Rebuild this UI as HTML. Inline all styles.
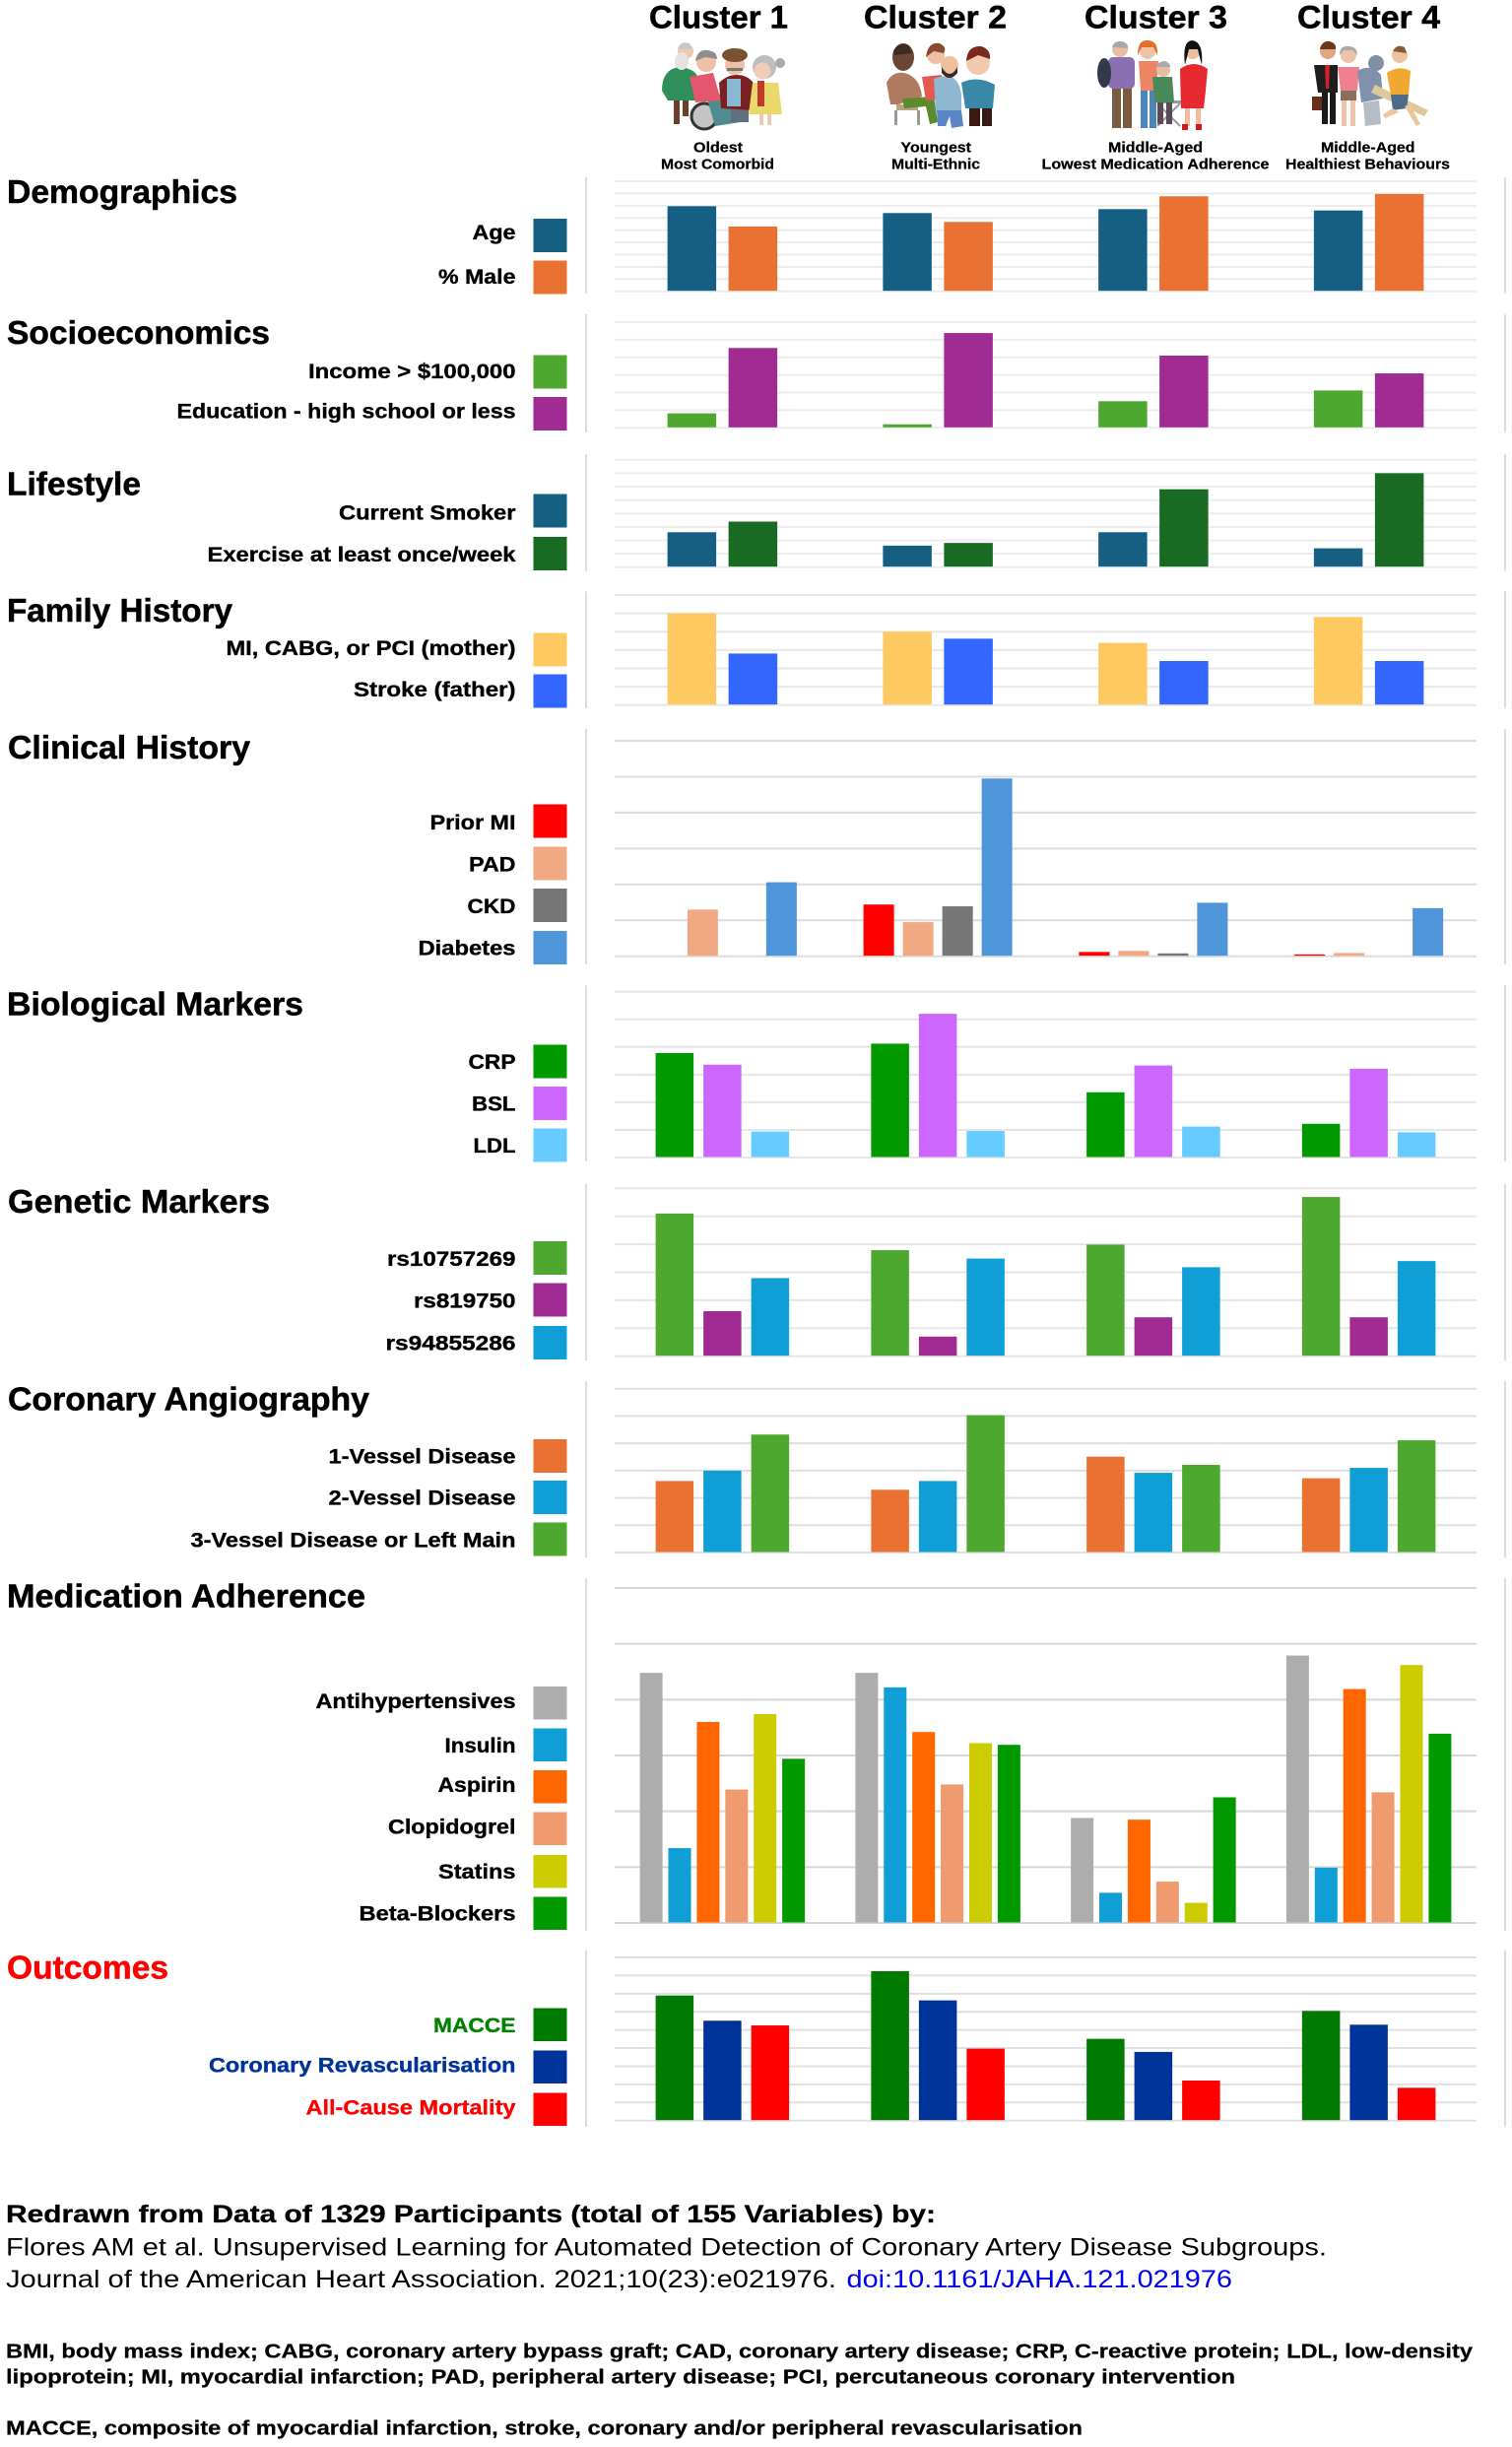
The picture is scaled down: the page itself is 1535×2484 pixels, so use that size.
<!DOCTYPE html>
<html lang="en">
<head>
<meta charset="utf-8">
<title>Coronary Artery Disease Clusters</title>
<style>
html,body{margin:0;padding:0;background:#fff}
svg{display:block}
text{font-family:"Liberation Sans",Arial,sans-serif}
.h{font-weight:700;font-size:33px;fill:#000;stroke:#000;stroke-width:.5}
.c{font-weight:700;font-size:32px;fill:#000;stroke:#000;stroke-width:.5}
.s{font-weight:700;font-size:14.5px;fill:#000;stroke:#000;stroke-width:.25}
.l{font-weight:700;font-size:21px;fill:#000;stroke:#000;stroke-width:.35}
.f{font-size:25px;fill:#000}
.fb{font-weight:700;font-size:25px;fill:#000;stroke:#000;stroke-width:.3}
.a{font-weight:700;font-size:20.5px;fill:#000;stroke:#000;stroke-width:.25}
</style>
</head>
<body>
<svg id="chart" xmlns="http://www.w3.org/2000/svg" width="1535" height="2484" viewBox="0 0 1535 2484">
<rect width="1535" height="2484" fill="#fff"/>

<!-- cluster headers -->
<text class="c" x="659" y="28.5" textLength="141" lengthAdjust="spacingAndGlyphs">Cluster 1</text>
<text class="c" x="877" y="28.5" textLength="145" lengthAdjust="spacingAndGlyphs">Cluster 2</text>
<text class="c" x="1101" y="28.5" textLength="145" lengthAdjust="spacingAndGlyphs">Cluster 3</text>
<text class="c" x="1317" y="28.5" textLength="145" lengthAdjust="spacingAndGlyphs">Cluster 4</text>

<text class="s" x="704" y="154.5" textLength="50" lengthAdjust="spacingAndGlyphs">Oldest</text>
<text class="s" x="671" y="171.5" textLength="115" lengthAdjust="spacingAndGlyphs">Most Comorbid</text>
<text class="s" x="914.5" y="154.5" textLength="71.5" lengthAdjust="spacingAndGlyphs">Youngest</text>
<text class="s" x="905" y="171.5" textLength="90" lengthAdjust="spacingAndGlyphs">Multi-Ethnic</text>
<text class="s" x="1125" y="154.5" textLength="96" lengthAdjust="spacingAndGlyphs">Middle-Aged</text>
<text class="s" x="1057.5" y="171.5" textLength="231" lengthAdjust="spacingAndGlyphs">Lowest Medication Adherence</text>
<text class="s" x="1341" y="154.5" textLength="95.5" lengthAdjust="spacingAndGlyphs">Middle-Aged</text>
<text class="s" x="1305" y="171.5" textLength="167" lengthAdjust="spacingAndGlyphs">Healthiest Behaviours</text>

<!-- illustration: cluster 1 -->
<g>
<rect x="684" y="96" width="6" height="30" fill="#6b3f2a"/><rect x="693" y="96" width="6" height="22" fill="#6b3f2a"/>
<path d="M672 92 Q672 70 690 68 Q706 70 708 78 L708 102 L678 102 Z" fill="#2f8f5b"/>
<circle cx="696" cy="52" r="8" fill="#eec9b4"/><path d="M688 50 Q690 41 700 44 L703 50 Z" fill="#c9c9c4"/>
<ellipse cx="692" cy="62" rx="7" ry="9" fill="#e4e4de"/>
<circle cx="715" cy="118" r="13" fill="#c4c4c4" stroke="#333" stroke-width="3"/>
<path d="M716 94 L752 98 L752 124 L726 128 Z" fill="#4e8c90"/>
<path d="M700 78 L724 74 L732 102 L706 104 Z" fill="#e4566e"/>
<circle cx="717" cy="63" r="10" fill="#eec0a8"/><path d="M706 62 Q708 50 718 51 Q728 52 728 60 L716 58 Z" fill="#8f8f8f"/>
<rect x="742" y="104" width="18" height="20" fill="#5f6f80"/>
<path d="M730 84 Q738 76 748 76 Q760 76 766 86 L766 112 L732 110 Z" fill="#7a2020"/>
<path d="M738 80 L752 80 L752 108 L738 108 Z" fill="#8ab8d4"/>
<circle cx="746" cy="66" r="10" fill="#eec0a8"/><ellipse cx="746" cy="56" rx="13" ry="7" fill="#7a5230"/>
<rect x="738" y="69" width="16" height="3" fill="#777"/>
<rect x="771" y="115" width="4" height="12" fill="#eec9b4"/><rect x="779" y="115" width="4" height="12" fill="#eec9b4"/>
<path d="M764 84 L790 84 L794 116 L760 116 Z" fill="#e9d96a"/>
<rect x="769" y="82" width="7" height="26" fill="#c0392b"/>
<circle cx="792" cy="64" r="5" fill="#aaa"/><circle cx="776" cy="68" r="12" fill="#bdbdbd"/><circle cx="774" cy="72" r="8.5" fill="#f0cdb8"/>
</g>
<!-- illustration: cluster 2 -->
<g>
<rect x="910" y="106" width="22" height="6" fill="#b9a383"/><rect x="908" y="112" width="3" height="15" fill="#999"/><rect x="931" y="112" width="3" height="15" fill="#999"/>
<path d="M900 84 Q906 72 918 74 Q934 78 936 98 L912 106 L904 106 Z" fill="#b07a60"/>
<path d="M916 100 L948 98 L952 124 L944 126 L940 108 L918 110 Z" fill="#5e8a2e"/>
<ellipse cx="917" cy="58" rx="11" ry="14" fill="#6b4536"/><path d="M907 52 Q912 42 922 46 L926 54 L908 56 Z" fill="#3d2a22"/>
<path d="M936 78 L956 76 L960 100 L940 102 Z" fill="#e45a50"/>
<circle cx="950" cy="56" r="9" fill="#eebfa6"/><path d="M940 58 Q942 42 954 44 Q962 48 958 54 L948 52 Z" fill="#8a4a30"/>
<path d="M948 80 Q958 76 966 78 Q974 82 976 96 L976 114 L950 114 Z" fill="#8fb7cf"/>
<path d="M951 112 L976 112 L978 128 L966 130 L964 118 L960 128 L952 128 Z" fill="#5a86c6"/>
<circle cx="964" cy="66" r="9" fill="#eec0a0"/><path d="M956 68 Q964 82 972 68 L972 74 Q964 84 956 74 Z" fill="#3a2a20"/>
<rect x="984" y="106" width="11" height="22" fill="#3a1a12"/><rect x="997" y="106" width="10" height="22" fill="#3a1a12"/>
<path d="M976 84 Q992 76 1010 86 L1008 110 L980 110 Z" fill="#3a88a8"/>
<circle cx="993" cy="64" r="12" fill="#f2c8ae"/><path d="M981 62 Q982 46 996 47 Q1006 50 1005 60 L993 56 Z" fill="#7a2a1c"/>
</g>
<!-- illustration: cluster 3 -->
<g>
<rect x="1129" y="86" width="9" height="44" fill="#7a5a40"/><rect x="1140" y="86" width="9" height="44" fill="#7a5a40"/>
<rect x="1125" y="58" width="27" height="32" rx="5" fill="#8a70b0"/>
<ellipse cx="1121" cy="74" rx="7" ry="15" fill="#33394a"/>
<circle cx="1137" cy="50" r="8" fill="#e8bda4"/><path d="M1129 48 Q1131 41 1139 42 Q1146 44 1145 49 Z" fill="#a8a8a8"/>
<rect x="1158" y="88" width="7" height="42" fill="#4a86ba"/><rect x="1167" y="88" width="7" height="42" fill="#4a86ba"/>
<path d="M1156 62 L1176 62 L1174 92 L1158 92 Z" fill="#ef8464"/>
<circle cx="1165" cy="52" r="8" fill="#f0c3a6"/><path d="M1155 56 Q1155 40 1165 41 Q1176 41 1175 56 L1171 48 L1159 48 Z" fill="#e56d2a"/>
<rect x="1175" y="102" width="24" height="3" fill="#999"/><path d="M1175 105 L1198 128 M1198 105 L1175 128" stroke="#999" stroke-width="2"/>
<path d="M1170 78 L1190 78 L1192 104 L1172 104 Z" fill="#4a8a5a"/>
<rect x="1175" y="104" width="6" height="22" fill="#5b4a55"/><rect x="1184" y="104" width="6" height="22" fill="#5b4a55"/>
<circle cx="1181" cy="71" r="7" fill="#e8bda4"/><path d="M1174 68 Q1176 62 1183 62 Q1188 64 1188 68 Z" fill="#aaa"/>
<rect x="1203" y="106" width="5" height="22" fill="#edbd9e"/><rect x="1214" y="106" width="5" height="22" fill="#edbd9e"/>
<path d="M1198 70 Q1212 60 1226 70 L1224 92 L1222 110 L1199 110 Z" fill="#e62a30"/>
<circle cx="1211" cy="52" r="8" fill="#edbd9e"/><path d="M1203 66 Q1200 42 1210 41 Q1222 42 1220 66 L1216 50 L1207 50 Z" fill="#111"/>
<rect x="1200" y="126" width="6" height="6" fill="#d01a20"/><rect x="1214" y="126" width="6" height="6" fill="#d01a20"/>
</g>
<!-- illustration: cluster 4 -->
<g>
<rect x="1332" y="98" width="14" height="14" fill="#6a2d1c"/>
<rect x="1342" y="90" width="6" height="36" fill="#1a1a1a"/><rect x="1350" y="90" width="6" height="36" fill="#1a1a1a"/>
<path d="M1334 66 L1358 66 L1358 94 L1338 94 Z" fill="#1e1e1e"/>
<path d="M1345 66 L1350 66 L1349 90 L1346 90 Z" fill="#d0202a"/>
<circle cx="1348" cy="52" r="8" fill="#e0a880"/><path d="M1340 50 Q1342 41 1350 42 Q1357 44 1356 50 Z" fill="#6a3a1c"/>
<rect x="1362" y="98" width="5" height="30" fill="#eec4a8"/><rect x="1371" y="98" width="5" height="30" fill="#eec4a8"/>
<rect x="1361" y="90" width="16" height="12" fill="#8a6f5c"/>
<path d="M1358 68 L1380 68 L1378 92 L1361 92 Z" fill="#f08090"/>
<circle cx="1369" cy="56" r="8" fill="#ecc3a8"/><path d="M1360 56 Q1360 46 1369 47 Q1378 47 1378 56 L1373 51 L1364 51 Z" fill="#aaa"/>
<path d="M1378 72 Q1392 64 1402 76 L1404 100 L1382 104 Z" fill="#8091ab"/>
<path d="M1384 104 L1400 102 L1402 126 L1386 128 Z" fill="#b6bcc4"/>
<circle cx="1397" cy="64" r="8" fill="#8090a0"/>
<path d="M1396 86 L1450 112 L1446 118 L1392 94 Z" fill="#e0c998"/>
<path d="M1408 74 Q1420 66 1432 72 L1430 96 L1412 96 Z" fill="#f0a830"/>
<path d="M1412 96 L1430 96 L1428 110 L1414 112 Z" fill="#4a6c86"/>
<path d="M1414 110 L1404 116 L1406 120 L1420 114 Z M1426 108 L1438 128 L1442 126 L1431 106 Z" fill="#eec4a0"/>
<circle cx="1421" cy="56" r="8" fill="#eec4a0"/><path d="M1414 52 Q1418 44 1426 48 L1428 54 Z" fill="#8a5a30"/>
</g>

<!-- section titles -->
<text class="h" x="7" y="206" textLength="234" lengthAdjust="spacingAndGlyphs">Demographics</text>
<text class="h" x="7" y="349" textLength="267" lengthAdjust="spacingAndGlyphs">Socioeconomics</text>
<text class="h" x="7" y="502.5" textLength="136" lengthAdjust="spacingAndGlyphs">Lifestyle</text>
<text class="h" x="7" y="631" textLength="229" lengthAdjust="spacingAndGlyphs">Family History</text>
<text class="h" x="8" y="770" textLength="246" lengthAdjust="spacingAndGlyphs">Clinical History</text>
<text class="h" x="7" y="1030.5" textLength="301" lengthAdjust="spacingAndGlyphs">Biological Markers</text>
<text class="h" x="8" y="1231" textLength="266" lengthAdjust="spacingAndGlyphs">Genetic Markers</text>
<text class="h" x="8" y="1431.5" textLength="367" lengthAdjust="spacingAndGlyphs">Coronary Angiography</text>
<text class="h" x="7" y="1631.5" textLength="364" lengthAdjust="spacingAndGlyphs">Medication Adherence</text>
<text class="h" x="7" y="2008.5" textLength="164" lengthAdjust="spacingAndGlyphs" style="fill:#f00;stroke:#f00">Outcomes</text>

<!-- legend labels -->
<text class="l" x="479.5" y="243" textLength="44" lengthAdjust="spacingAndGlyphs">Age</text>
<text class="l" x="445" y="288" textLength="78.5" lengthAdjust="spacingAndGlyphs">% Male</text>
<text class="l" x="313" y="384" textLength="210.5" lengthAdjust="spacingAndGlyphs">Income &gt; $100,000</text>
<text class="l" x="179.5" y="424.5" textLength="344" lengthAdjust="spacingAndGlyphs">Education - high school or less</text>
<text class="l" x="344" y="527.5" textLength="179.5" lengthAdjust="spacingAndGlyphs">Current Smoker</text>
<text class="l" x="210.5" y="570" textLength="313" lengthAdjust="spacingAndGlyphs">Exercise at least once/week</text>
<text class="l" x="229.5" y="665" textLength="294" lengthAdjust="spacingAndGlyphs">MI, CABG, or PCI (mother)</text>
<text class="l" x="359" y="707" textLength="164.5" lengthAdjust="spacingAndGlyphs">Stroke (father)</text>
<text class="l" x="436.5" y="842" textLength="87" lengthAdjust="spacingAndGlyphs">Prior MI</text>
<text class="l" x="476" y="884.5" textLength="47.5" lengthAdjust="spacingAndGlyphs">PAD</text>
<text class="l" x="474.5" y="927" textLength="49" lengthAdjust="spacingAndGlyphs">CKD</text>
<text class="l" x="424.5" y="969.5" textLength="99" lengthAdjust="spacingAndGlyphs">Diabetes</text>
<text class="l" x="475.5" y="1085" textLength="48" lengthAdjust="spacingAndGlyphs">CRP</text>
<text class="l" x="479" y="1127.5" textLength="44.5" lengthAdjust="spacingAndGlyphs">BSL</text>
<text class="l" x="480.5" y="1170" textLength="43" lengthAdjust="spacingAndGlyphs">LDL</text>
<text class="l" x="393" y="1285" textLength="130.5" lengthAdjust="spacingAndGlyphs">rs10757269</text>
<text class="l" x="420" y="1327.5" textLength="103.5" lengthAdjust="spacingAndGlyphs">rs819750</text>
<text class="l" x="391.5" y="1370.5" textLength="132" lengthAdjust="spacingAndGlyphs">rs94855286</text>
<text class="l" x="333.5" y="1485.5" textLength="190" lengthAdjust="spacingAndGlyphs">1-Vessel Disease</text>
<text class="l" x="333.5" y="1527.5" textLength="190" lengthAdjust="spacingAndGlyphs">2-Vessel Disease</text>
<text class="l" x="193.5" y="1570.5" textLength="330" lengthAdjust="spacingAndGlyphs">3-Vessel Disease or Left Main</text>
<text class="l" x="320.5" y="1734" textLength="203" lengthAdjust="spacingAndGlyphs">Antihypertensives</text>
<text class="l" x="451.5" y="1779" textLength="72" lengthAdjust="spacingAndGlyphs">Insulin</text>
<text class="l" x="444.5" y="1819" textLength="79" lengthAdjust="spacingAndGlyphs">Aspirin</text>
<text class="l" x="394" y="1861.5" textLength="129.5" lengthAdjust="spacingAndGlyphs">Clopidogrel</text>
<text class="l" x="445" y="1907" textLength="78.5" lengthAdjust="spacingAndGlyphs">Statins</text>
<text class="l" x="364.5" y="1949.5" textLength="159" lengthAdjust="spacingAndGlyphs">Beta-Blockers</text>
<text class="l" x="440" y="2063" textLength="83.5" lengthAdjust="spacingAndGlyphs" style="fill:#008000;stroke:#008000">MACCE</text>
<text class="l" x="212" y="2103.5" textLength="311.5" lengthAdjust="spacingAndGlyphs" style="fill:#003399;stroke:#003399">Coronary Revascularisation</text>
<text class="l" x="310.5" y="2146.5" textLength="213" lengthAdjust="spacingAndGlyphs" style="fill:#f00;stroke:#f00">All-Cause Mortality</text>

<!-- legend swatches -->
<rect x="541.5" y="222" width="34" height="34" fill="#156082"/>
<rect x="541.5" y="264.5" width="34" height="34" fill="#E97132"/>
<rect x="541.5" y="360.5" width="34" height="34" fill="#4EA72E"/>
<rect x="541.5" y="403" width="34" height="34" fill="#A02B93"/>
<rect x="541.5" y="501.5" width="34" height="34" fill="#156082"/>
<rect x="541.5" y="545" width="34" height="34" fill="#196B24"/>
<rect x="541.5" y="642.5" width="34" height="34" fill="#FFC961"/>
<rect x="541.5" y="684.5" width="34" height="34" fill="#3366FF"/>
<rect x="541.5" y="816.5" width="34" height="34" fill="#FF0000"/>
<rect x="541.5" y="859.5" width="34" height="34" fill="#F1A983"/>
<rect x="541.5" y="902" width="34" height="34" fill="#767676"/>
<rect x="541.5" y="945" width="34" height="34" fill="#4F95D9"/>
<rect x="541.5" y="1060.5" width="34" height="34" fill="#009900"/>
<rect x="541.5" y="1103" width="34" height="34" fill="#CC66FF"/>
<rect x="541.5" y="1145.5" width="34" height="34" fill="#66CCFF"/>
<rect x="541.5" y="1260" width="34" height="34" fill="#4EA72E"/>
<rect x="541.5" y="1302.5" width="34" height="34" fill="#A02B93"/>
<rect x="541.5" y="1346" width="34" height="34" fill="#0F9ED5"/>
<rect x="541.5" y="1461" width="34" height="34" fill="#E97132"/>
<rect x="541.5" y="1503" width="34" height="34" fill="#0F9ED5"/>
<rect x="541.5" y="1545.5" width="34" height="34" fill="#4EA72E"/>
<rect x="541.5" y="1712" width="34" height="33.5" fill="#ADADAD"/>
<rect x="541.5" y="1754.5" width="34" height="33.5" fill="#0F9ED5"/>
<rect x="541.5" y="1797" width="34" height="33.5" fill="#FF6600"/>
<rect x="541.5" y="1839.5" width="34" height="33.5" fill="#EF9B6F"/>
<rect x="541.5" y="1883" width="34" height="33.5" fill="#CCCC00"/>
<rect x="541.5" y="1925.5" width="34" height="33.5" fill="#009900"/>
<rect x="541.5" y="2038.5" width="34" height="33.5" fill="#007A00"/>
<rect x="541.5" y="2081.5" width="34" height="33.5" fill="#003399"/>
<rect x="541.5" y="2124.5" width="34" height="33.5" fill="#FF0000"/>

<g id="plots"></g>

<!-- footer -->
<text class="fb" x="6" y="2256" textLength="944" lengthAdjust="spacingAndGlyphs">Redrawn from Data of 1329 Participants (total of 155 Variables) by:</text>
<text class="f" x="6" y="2289.5" textLength="1341" lengthAdjust="spacingAndGlyphs">Flores AM et al. Unsupervised Learning for Automated Detection of Coronary Artery Disease Subgroups.</text>
<text class="f" x="6" y="2322" textLength="843" lengthAdjust="spacingAndGlyphs">Journal of the American Heart Association. 2021;10(23):e021976.</text>
<text class="f" x="859.5" y="2322" textLength="391.5" lengthAdjust="spacingAndGlyphs" style="fill:#0000ee">doi:10.1161/JAHA.121.021976</text>
<text class="a" x="6" y="2393.5" textLength="1489" lengthAdjust="spacingAndGlyphs">BMI, body mass index; CABG, coronary artery bypass graft; CAD, coronary artery disease; CRP, C-reactive protein; LDL, low-density</text>
<text class="a" x="6" y="2419.5" textLength="1248" lengthAdjust="spacingAndGlyphs">lipoprotein; MI, myocardial infarction; PAD, peripheral artery disease; PCI, percutaneous coronary intervention</text>
<text class="a" x="6" y="2471.5" textLength="1093" lengthAdjust="spacingAndGlyphs">MACCE, composite of myocardial infarction, stroke, coronary and/or peripheral revascularisation</text>
</svg>

<script>
// Values per series, one entry per cluster (1-4), in gridline units
const clusters = ['Cluster 1', 'Cluster 2', 'Cluster 3', 'Cluster 4'];

const ageValues = [6.96, 6.4, 6.72, 6.61];
const maleValues = [5.3, 5.67, 7.77, 7.96];

const incomeValues = [0.82, 0.2, 1.51, 2.12];
const educationValues = [4.53, 5.38, 4.1, 3.09];

const smokerValues = [2.6, 1.6, 2.6, 1.4];
const exerciseValues = [3.39, 1.8, 5.8, 7.0];

const motherHistoryValues = [5.0, 4.0, 3.39, 4.8];
const fatherStrokeValues = [2.81, 3.62, 2.4, 2.4];

const priorMiValues = [0, 1.44, 0.12, 0.05];
const padValues = [1.3, 0.95, 0.15, 0.09];
const ckdValues = [0, 1.39, 0.08, 0];
const diabetesValues = [2.06, 4.95, 1.49, 1.34];

const crpValues = [3.78, 4.12, 2.36, 1.22];
const bslValues = [3.36, 5.2, 3.33, 3.21];
const ldlValues = [0.94, 0.96, 1.12, 0.91];

const rs10757269Values = [5.1, 3.79, 3.99, 5.69];
const rs819750Values = [1.61, 0.7, 1.39, 1.39];
const rs94855286Values = [2.79, 3.49, 3.18, 3.4];

const oneVesselValues = [2.62, 2.3, 3.51, 2.72];
const twoVesselValues = [3.0, 2.62, 2.92, 3.1];
const threeVesselValues = [4.32, 5.03, 3.21, 4.11];

const antihypertensiveValues = [4.48, 4.48, 1.88, 4.79];
const insulinValues = [1.34, 4.22, 0.54, 0.99];
const aspirinValues = [3.6, 3.42, 1.85, 4.19];
const clopidogrelValues = [2.39, 2.48, 0.74, 2.34];
const statinValues = [3.74, 3.22, 0.36, 4.62];
const betaBlockerValues = [2.94, 3.19, 2.25, 3.39];

const macceValues = [6.9, 8.24, 4.51, 6.05];
const revascValues = [5.51, 6.63, 3.79, 5.29];
const mortalityValues = [5.25, 3.97, 2.21, 1.81];

const panels = [
  {id:'demographics', top:184, bottom:295.7, ticks:9, sepTop:180, sepBottom:298, grid:'#ececec',
   series:[['age',ageValues,'#156082'],['male',maleValues,'#E97132']]},
  {id:'socioeconomics', top:327, bottom:434.3, ticks:6, sepTop:319, sepBottom:439, grid:'#ececec',
   series:[['income',incomeValues,'#4EA72E'],['education',educationValues,'#A02B93']]},
  {id:'lifestyle', top:466.7, bottom:575.7, ticks:8, sepTop:461, sepBottom:579.5, grid:'#ececec',
   series:[['smoker',smokerValues,'#156082'],['exercise',exerciseValues,'#196B24']]},
  {id:'family-history', top:604, bottom:715.7, ticks:6, sepTop:600.5, sepBottom:719, grid:'#e8e8e8',
   series:[['mother',motherHistoryValues,'#FFC961'],['father',fatherStrokeValues,'#3366FF']]},
  {id:'clinical-history', top:752, bottom:970.7, ticks:6, sepTop:740, sepBottom:979, grid:'#dcdcdc',
   series:[['prior-mi',priorMiValues,'#FF0000'],['pad',padValues,'#F1A983'],['ckd',ckdValues,'#767676'],['diabetes',diabetesValues,'#4F95D9']]},
  {id:'biological-markers', top:1006.7, bottom:1175, ticks:6, sepTop:1000.5, sepBottom:1179, grid:'#e5e5e5',
   series:[['crp',crpValues,'#009900'],['bsl',bslValues,'#CC66FF'],['ldl',ldlValues,'#66CCFF']]},
  {id:'genetic-markers', top:1206.3, bottom:1376.7, ticks:6, sepTop:1201.5, sepBottom:1381, grid:'#e5e5e5',
   series:[['rs10757269',rs10757269Values,'#4EA72E'],['rs819750',rs819750Values,'#A02B93'],['rs94855286',rs94855286Values,'#0F9ED5']]},
  {id:'coronary-angiography', top:1409.7, bottom:1576, ticks:6, sepTop:1402, sepBottom:1581, grid:'#dfdfdf',
   series:[['one-vessel',oneVesselValues,'#E97132'],['two-vessel',twoVesselValues,'#0F9ED5'],['three-vessel',threeVesselValues,'#4EA72E']]},
  {id:'medication-adherence', top:1612, bottom:1952, ticks:6, sepTop:1602, sepBottom:1960, grid:'#d6d6d6',
   series:[['antihypertensives',antihypertensiveValues,'#ADADAD'],['insulin',insulinValues,'#0F9ED5'],['aspirin',aspirinValues,'#FF6600'],['clopidogrel',clopidogrelValues,'#EF9B6F'],['statins',statinValues,'#CCCC00'],['beta-blockers',betaBlockerValues,'#009900']]},
  {id:'outcomes', top:1987, bottom:2152.7, ticks:9, sepTop:1979.5, sepBottom:2159, grid:'#e0e0e0',
   series:[['macce',macceValues,'#007A00'],['revascularisation',revascValues,'#003399'],['mortality',mortalityValues,'#FF0000']]}
];

const NS = 'http://www.w3.org/2000/svg';
const plotLeft = 624, plotRight = 1499;
const barLayout = {2:{w:49.5, pitch:62}, 3:{w:38.5, pitch:48.5}, 4:{w:31, pitch:40}, 6:{w:23, pitch:28.9}};

function xCenter(i){ return plotLeft + (plotRight - plotLeft) / clusters.length * (i + 0.5); }
function yScale(p, v){ return p.bottom - (p.bottom - p.top) / p.ticks * v; }
function make(tag, attrs){
  const el = document.createElementNS(NS, tag);
  for (const k in attrs) el.setAttribute(k, attrs[k]);
  return el;
}

const root = document.getElementById('plots');
panels.forEach(function(p){
  const g = make('g', {});
  
  
  root.appendChild(g);

  [595, 1528].forEach(function(x, side){
    const sep = make('line', {x1:x, x2:x, y1:p.sepTop, y2:p.sepBottom, stroke:'#dcdcdc', 'stroke-width':2});
    
    
    g.appendChild(sep);
  });

  for (let t = 0; t <= p.ticks; t++) {
    const y = yScale(p, t);
    const line = make('line', {x1:plotLeft, x2:plotRight, y1:y, y2:y, stroke:p.grid, 'stroke-width':2});
    
    
    g.appendChild(line);
  }

  const n = p.series.length, L = barLayout[n];
  p.series.forEach(function(s, si){
    s[1].forEach(function(v, ci){
      if (v <= 0) return;
      const x = xCenter(ci) + (si - (n - 1) / 2) * L.pitch - L.w / 2;
      const y = yScale(p, v);
      const bar = make('rect', {x:x, y:y, width:L.w, height:p.bottom - y - 0.5, fill:s[2]});
      
      
      g.appendChild(bar);
    });
  });
});
</script>
</body>
</html>
